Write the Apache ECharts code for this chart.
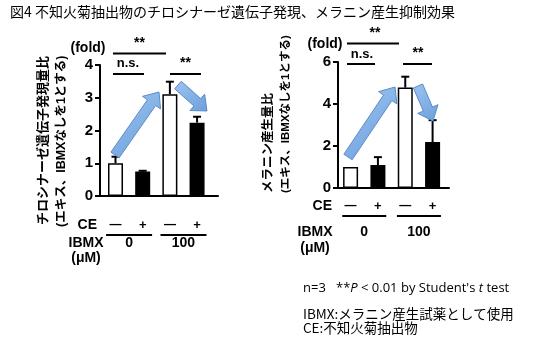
<!DOCTYPE html>
<html>
<head>
<meta charset="utf-8">
<script src="https://cdn.jsdelivr.net/npm/echarts@6/dist/echarts.min.js"></script>
<style>
  html, body { margin: 0; padding: 0; background: #fff; }
  #chart { width: 536px; height: 351px; }
</style>
</head>
<body>
<div id="chart"></div>
<script>
// 数据
const groups = ['IBMX0_CE-', 'IBMX0_CE+', 'IBMX100_CE-', 'IBMX100_CE+'];
const ceLabels = ['—', '+', '—', '+'];
const ibmxLabels = ['0', '100'];
const barFills = ['#ffffff', '#000000', '#ffffff', '#000000'];

// チロシナーゼ遺伝子発現量比
const tyrMean = [1.0, 0.75, 3.11, 2.24];
const tyrErr = [0.2, 0.02, 0.38, 0.18];
// メラニン産生量比
const melMean = [1.0, 1.09, 4.78, 2.19];
const melErr = [0.0, 0.38, 0.52, 1.04];

const tyrAxis = { max: 4, interval: 1 };
const melAxis = { max: 6, interval: 2 };

const FONT = '"Liberation Sans", Arial, "Noto Sans CJK JP", sans-serif';
const JP = '"Noto Sans CJK JP", sans-serif';

const chart = echarts.init(document.getElementById('chart'));

function xAxisFor(gi, min, max) {
    return {
        type: 'value', gridIndex: gi, min: min, max: max,
        axisLine: { show: true, onZero: false, lineStyle: { color: '#000', width: 2 } },
        axisTick: { show: false }, axisLabel: { show: false }, splitLine: { show: false }
    };
}

function yAxisFor(gi, ax) {
    return {
        type: 'value', gridIndex: gi, min: 0, max: ax.max, interval: ax.interval,
        axisLine: { show: true, lineStyle: { color: '#000', width: 2 } },
        axisTick: { show: true, length: 5, lineStyle: { color: '#000', width: 2 } },
        axisLabel: { color: '#000', fontSize: 15, fontWeight: 'bold', fontFamily: FONT, margin: 7 },
        splitLine: { show: false }
    };
}

function barSeries(gi, means) {
    return {
        type: 'bar', xAxisIndex: gi, yAxisIndex: gi, barWidth: 15,
        data: means.map((v, i) => ({
            value: [i + 1, v],
            itemStyle: { color: barFills[i], borderColor: '#000', borderWidth: 1.5 }
        })),
        z: 2
    };
}

function errSeries(gi, means, errs) {
    return {
        type: 'custom', xAxisIndex: gi, yAxisIndex: gi, z: 1,
        data: means.map((v, i) => [i + 1, v, v + errs[i]]),
        renderItem: function(params, api) {
            const lo = api.coord([api.value(0), api.value(1)]);
            const hi = api.coord([api.value(0), api.value(2)]);
            const st = { stroke: '#000', lineWidth: 2 };
            if (hi[1] >= lo[1] - 0.5) return { type: 'group', children: [] };
            return {
                type: 'group',
                children: [
                    { type: 'line', shape: { x1: lo[0], y1: lo[1], x2: hi[0], y2: hi[1] }, style: st },
                    { type: 'line', shape: { x1: hi[0] - 4, y1: hi[1], x2: hi[0] + 4, y2: hi[1] }, style: st }
                ]
            };
        }
    };
}

chart.setOption({
    animation: false,
    grid: [
        { left: 100, top: 65, width: 118, height: 131 },
        { left: 338, top: 62, width: 111, height: 126 }
    ],
    xAxis: [xAxisFor(0, 0.43, 4.77), xAxisFor(1, 0.54, 4.6)],
    yAxis: [yAxisFor(0, tyrAxis), yAxisFor(1, melAxis)],
    series: [
        errSeries(0, tyrMean, tyrErr),
        barSeries(0, tyrMean),
        errSeries(1, melMean, melErr),
        barSeries(1, melMean)
    ]
});

// 注釈（矢印、有意差、CE/IBMX 行）
function px(gi, x, y) {
    return chart.convertToPixel({ gridIndex: gi }, [x, y]);
}

function arrow(x1, y1, x2, y2) {
    const dx = x2 - x1, dy = y2 - y1;
    const len = Math.sqrt(dx * dx + dy * dy);
    const ux = dx / len, uy = dy / len;
    const nx = -uy, ny = ux;
    const sw = 5, hw = 11, hl = 13;
    const bx = x2 - ux * hl, by = y2 - uy * hl;
    const pts = [
        [x1 + nx * sw, y1 + ny * sw],
        [bx + nx * sw, by + ny * sw],
        [bx + nx * hw, by + ny * hw],
        [x2, y2],
        [bx - nx * hw, by - ny * hw],
        [bx - nx * sw, by - ny * sw],
        [x1 - nx * sw, y1 - ny * sw]
    ];
    return {
        type: 'polygon', shape: { points: pts }, z: 10,
        style: {
            fill: new echarts.graphic.LinearGradient(0, 0, 1, 1, [
                { offset: 0, color: '#9cc4f0' }, { offset: 1, color: '#6c9fdc' }
            ]),
            stroke: '#5b8bc9', lineWidth: 1
        }
    };
}

function txt(x, y, s, size, align, weight, family) {
    return {
        type: 'text', x: x, y: y, z: 12,
        style: {
            text: s, fill: '#000', fontSize: size, fontWeight: weight || 'bold',
            fontFamily: family || FONT, align: align || 'center', verticalAlign: 'middle'
        }
    };
}

function hline(x1, x2, y) {
    return {
        type: 'line', z: 12,
        shape: { x1: x1, y1: y, x2: x2, y2: y },
        style: { stroke: '#000', lineWidth: 2 }
    };
}

function vtxt(x, y, s, size) {
    return {
        type: 'text', x: x, y: y, rotation: Math.PI / 2, z: 12,
        style: {
            text: s, fill: '#000', fontSize: size, fontWeight: 'bold',
            fontFamily: FONT, align: 'left', verticalAlign: 'middle'
        }
    };
}

const g = [];

// タイトル
g.push(txt(10, 12, '図4 不知火菊抽出物のチロシナーゼ遺伝子発現、メラニン産生抑制効果', 14, 'left', 'normal', JP));

// 縦軸タイトル
g.push(vtxt(43, 225, 'チロシナーゼ遺伝子発現量比', 13));
g.push(vtxt(62, 227, '(エキス、IBMXなしを1とする)', 12.5));
g.push(vtxt(269, 193, 'メラニン産生量比', 12.5));
g.push(vtxt(286, 193, '(エキス、IBMXなしを1とする)', 11.5));

// (fold)
g.push(txt(88, 48, '(fold)', 14));
g.push(txt(325, 44, '(fold)', 14));

// 有意差（左）
g.push(hline(113, 166, 53.5), txt(139.5, 43, '**', 14));
g.push(hline(113, 144, 74), txt(128, 63, 'n.s.', 13));
g.push(hline(170, 201, 74), txt(185.5, 63, '**', 14));
// 有意差（右）
g.push(hline(347, 399, 43.5), txt(375, 33, '**', 14));
g.push(hline(347, 375, 64), txt(362, 54, 'n.s.', 13));
g.push(hline(403, 432, 64), txt(418, 53, '**', 14));

// 矢印
g.push(arrow(115, 155, 159, 92));
g.push(arrow(178, 85, 207, 111));
g.push(arrow(348, 157, 395, 87));
g.push(arrow(418, 86, 433, 121));

// CE / IBMX 行
const rows = [
    { gi: 0, ceY: 225, lineY: 235, ibY: 243, umY: 258, labX: 86, ceX: 97, half: 23 },
    { gi: 1, ceY: 206, lineY: 216, ibY: 232, umY: 248, labX: 315, ceX: 332, half: 22 }
];
rows.forEach(r => {
    g.push(txt(r.ceX, r.ceY, 'CE', 14, 'right'));
    ceLabels.forEach((s, i) => {
        const p = px(r.gi, i + 1, 0);
        g.push(txt(p[0], r.ceY, s, s === '+' ? 13 : 12));
    });
    ibmxLabels.forEach((s, k) => {
        const c = px(r.gi, 1.5 + 2 * k, 0)[0];
        g.push(hline(c - r.half, c + r.half, r.lineY));
        g.push(txt(c, r.ibY, s, 14));
    });
    g.push(txt(r.labX, r.ibY, 'IBMX', 14));
    g.push(txt(r.labX, r.umY, '(μM)', 14));
});

// 注記
const NOTE = '"Open Sans", "Liberation Sans", sans-serif';
g.push({
    type: 'text', x: 303, y: 288, z: 12,
    style: {
        text: 'n=3   **{i|P} < 0.01 by Student\'s {i|t} test',
        fill: '#000', fontSize: 13, fontFamily: NOTE, verticalAlign: 'middle',
        rich: { i: { fontStyle: 'italic', fontSize: 13, fontFamily: NOTE, fill: '#000' } }
    }
});
g.push(txt(303, 314, 'IBMX:メラニン産生試薬として使用', 13.5, 'left', 'normal', JP));
g.push(txt(303, 328, 'CE:不知火菊抽出物', 13.5, 'left', 'normal', JP));

chart.setOption({ graphic: g });
</script>
</body>
</html>
